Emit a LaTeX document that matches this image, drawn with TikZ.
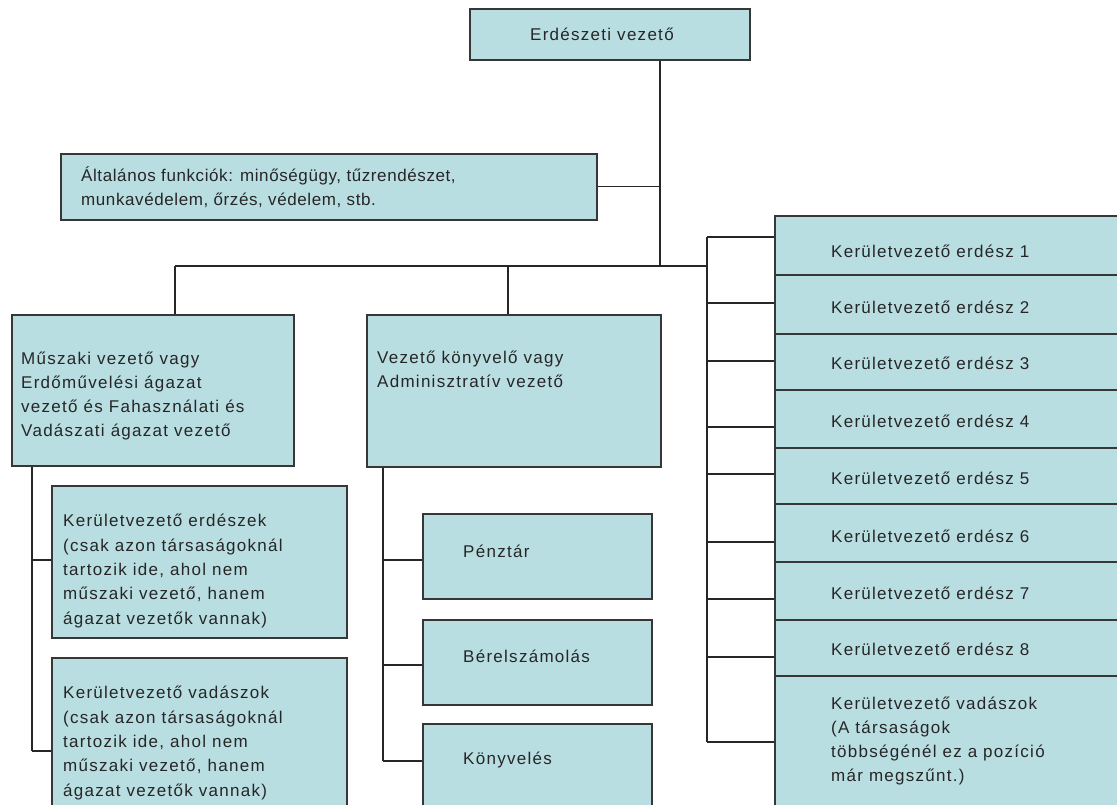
\documentclass[tikz,border=0pt]{standalone}
\usepackage{fontspec}
\setmainfont{Liberation Sans}[LetterSpace=7.5]
\newfontfamily\tightfont{Liberation Sans}[LetterSpace=3.5]
\definecolor{boxfill}{RGB}{185,222,226}
\definecolor{boxline}{RGB}{55,55,55}
\begin{document}
\begin{tikzpicture}[x=1pt,y=-1pt,
  box/.style={draw=boxline, fill=boxfill, line width=1.6pt, inner sep=0pt, anchor=north west},
  txt/.style={anchor=west, align=left, inner sep=0pt, text=black!85,
              font=\fontsize{17}{24.3}\selectfont},
  wire/.style={draw=black!85, line width=1.3pt}]
\useasboundingbox (0,0) rectangle (1117,805);
\clip (0,0) rectangle (1117,805);

% --- boxes -------------------------------------------------------------
\node[box, minimum width=280pt, minimum height=51pt] (top) at (469,8) {};
\node[box, minimum width=536pt, minimum height=66pt] (alt) at (60,153) {};
\node[box, minimum width=282pt, minimum height=151pt] (mus) at (11,314) {};
\node[box, minimum width=294pt, minimum height=152pt] (vez) at (366,314) {};
\node[box, minimum width=295pt, minimum height=152pt] (ke) at (51,485) {};
\node[box, minimum width=295pt, minimum height=175pt] (kv) at (51,657) {};
\node[box, minimum width=229pt, minimum height=85pt] (pen) at (422,513) {};
\node[box, minimum width=229pt, minimum height=85pt] (ber) at (422,619) {};
\node[box, minimum width=229pt, minimum height=110pt] (kon) at (422,723) {};

% right column of district heads
\node[box, minimum width=360pt, minimum height=59pt] (k1) at (774,215) {};
\node[box, minimum width=360pt, minimum height=59pt] (k2) at (774,274) {};
\node[box, minimum width=360pt, minimum height=56pt] (k3) at (774,333) {};
\node[box, minimum width=360pt, minimum height=58pt] (k4) at (774,389) {};
\node[box, minimum width=360pt, minimum height=55.5pt] (k5) at (774,447.5) {};
\node[box, minimum width=360pt, minimum height=58pt] (k6) at (774,503) {};
\node[box, minimum width=360pt, minimum height=58pt] (k7) at (774,561) {};
\node[box, minimum width=360pt, minimum height=56pt] (k8) at (774,619) {};
\node[box, minimum width=360pt, minimum height=160pt] (k9) at (774,675) {};

% --- texts -------------------------------------------------------------
\node[txt] (ttop) at (530,34) {Erdészeti vezető};
\node[txt, font=\tightfont\fontsize{17}{24.3}\selectfont] (talt) at (81,187) {Általános funkciók: minőségügy, tűzrendészet,\\munkavédelem, őrzés, védelem, stb.};
\node[txt] (tmus) at (21,396) {Műszaki vezető vagy\\Erdőművelési ágazat\\vezető és Fahasználati és\\Vadászati ágazat vezető};
\node[txt] (tvez) at (377,369) {Vezető könyvelő vagy\\Adminisztratív vezető};
\node[txt] (tke) at (63,571) {Kerületvezető erdészek\\(csak azon társaságoknál\\tartozik ide, ahol nem\\műszaki vezető, hanem\\ágazat vezetők vannak)};
\node[txt] (tkv) at (63,743) {Kerületvezető vadászok\\(csak azon társaságoknál\\tartozik ide, ahol nem\\műszaki vezető, hanem\\ágazat vezetők vannak)};
\node[txt] (tpen) at (463,551) {Pénztár};
\node[txt] (tber) at (463,656) {Bérelszámolás};
\node[txt] (tkon) at (463,760) {Könyvelés};
\node[txt] (tk1) at (831,251) {Kerületvezető erdész 1};
\node[txt] (tk2) at (831,307) {Kerületvezető erdész 2};
\node[txt] (tk3) at (831,363) {Kerületvezető erdész 3};
\node[txt] (tk4) at (831,421) {Kerületvezető erdész 4};
\node[txt] (tk5) at (831,478) {Kerületvezető erdész 5};
\node[txt] (tk6) at (831,536) {Kerületvezető erdész 6};
\node[txt] (tk7) at (831,593) {Kerületvezető erdész 7};
\node[txt] (tk8) at (831,649) {Kerületvezető erdész 8};
\node[txt] (tk9) at (831,741) {Kerületvezető vadászok\\(A társaságok\\többségénél ez a pozíció\\már megszűnt.)};

% --- connectors --------------------------------------------------------
\coordinate (j0) at (660,266);
\coordinate (bl) at (175,266);
\coordinate (bm) at (508,266);
\coordinate (br) at (707,266);
\draw[wire] (j0 |- top.south) -- (j0);
\draw[wire] (alt.east) -- (alt.east -| j0);
\draw[wire] (bl) -- (br);
\draw[wire] (bl) -- (bl |- mus.north);
\draw[wire] (bm) -- (bm |- vez.north);

% technical branch
\coordinate (l1) at (32,560);
\coordinate (l2) at (32,751);
\draw[wire] (l2 |- mus.south) -- (l2);
\draw[wire] (l1) -- (l1 -| ke.west);
\draw[wire] (l2) -- (l2 -| kv.west);

% administrative branch
\coordinate (m1) at (383,560);
\coordinate (m2) at (383,665);
\coordinate (m3) at (383,761);
\draw[wire] (m3 |- vez.south) -- (m3);
\draw[wire] (m1) -- (m1 -| pen.west);
\draw[wire] (m2) -- (m2 -| ber.west);
\draw[wire] (m3) -- (m3 -| kon.west);

% district rail
\coordinate (r1) at (707,237);
\coordinate (r2) at (707,303);
\coordinate (r3) at (707,361);
\coordinate (r4) at (707,427);
\coordinate (r5) at (707,474);
\coordinate (r6) at (707,542);
\coordinate (r7) at (707,599);
\coordinate (r8) at (707,657);
\coordinate (r9) at (707,742);
\draw[wire] (r1) -- (r9);
\foreach \i in {1,...,9}
  \draw[wire] (r\i) -- (r\i -| k\i.west);
\end{tikzpicture}
\end{document}
